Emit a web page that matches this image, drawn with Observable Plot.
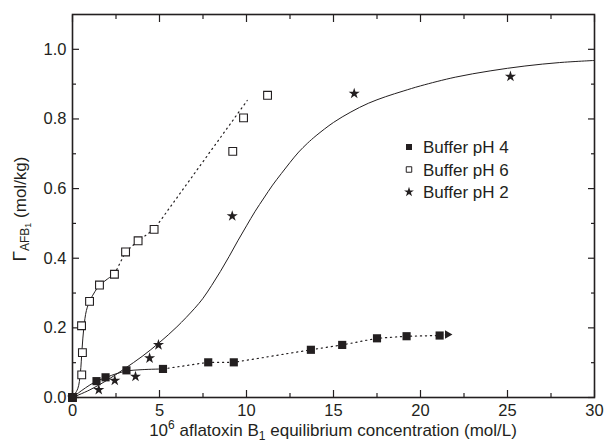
<!DOCTYPE html>
<html><head><meta charset="utf-8">
<script src="https://cdn.jsdelivr.net/npm/d3@7"></script>
<script src="https://cdn.jsdelivr.net/npm/@observablehq/plot@0.6"></script>
<style>body{margin:0;background:#fff}</style>
</head><body><div id="chart"></div>
<script>
// Measured data
const ph4X = [0, 1.38, 1.9, 3.1, 5.2, 7.8, 9.27, 13.7, 15.5, 17.5, 19.2, 21.1];
const ph4Y = [0, 0.047, 0.058, 0.078, 0.082, 0.101, 0.101, 0.137, 0.151, 0.170, 0.176, 0.178];
const ph6X = [0, 0.53, 0.57, 0.52, 0.98, 1.55, 2.41, 3.05, 3.77, 4.69, 9.21, 9.83, 11.21];
const ph6Y = [0, 0.065, 0.129, 0.206, 0.276, 0.323, 0.354, 0.418, 0.450, 0.483, 0.707, 0.803, 0.868];
const ph2X = [0, 1.51, 2.43, 3.62, 4.43, 4.94, 9.18, 16.19, 25.17];
const ph2Y = [0, 0.022, 0.049, 0.060, 0.113, 0.151, 0.521, 0.873, 0.922];

// Fitted curves
const fit4X = [0, 0.5, 1.0, 1.4, 2.0, 2.5, 3.1, 4.0, 5.2];
const fit4Y = [0, 0.019, 0.036, 0.047, 0.059, 0.068, 0.076, 0.080, 0.082];
const dot4X = [5.2, 7.8, 9.27, 13.7, 15.5, 17.5, 19.2, 21.1, 21.6];
const dot4Y = [0.082, 0.101, 0.101, 0.137, 0.151, 0.170, 0.176, 0.178, 0.181];
const arrowX = [21.55];
const arrowY = [0.181];

const fit6X = [0, 0.3, 0.45, 0.55, 0.65, 0.8, 1.0, 1.3, 1.55, 2.0, 2.41];
const fit6Y = [0, 0.025, 0.07, 0.14, 0.2, 0.25, 0.278, 0.305, 0.322, 0.34, 0.354];
const dot6X = [2.41, 3.05, 3.77, 4.69, 10.04];
const dot6Y = [0.354, 0.418, 0.450, 0.483, 0.853];

const fit2X = [0, 1, 2, 3, 4, 5, 6, 7, 7.5, 8, 8.5, 9, 9.5, 10, 10.5, 11, 11.5, 12, 12.5, 13, 13.5, 14, 15, 16, 17, 18, 19, 20, 22, 24, 26, 28, 30];
const fit2Y = [0, 0.022, 0.05, 0.083, 0.118, 0.158, 0.203, 0.255, 0.285, 0.322, 0.362, 0.405, 0.45, 0.493, 0.535, 0.573, 0.61, 0.643, 0.675, 0.705, 0.73, 0.752, 0.79, 0.82, 0.845, 0.864, 0.88, 0.895, 0.92, 0.938, 0.952, 0.962, 0.968];

// Ticks and labels
const xTicks = [0, 5, 10, 15, 20, 25, 30];
const xMinorTicks = [2.5, 7.5, 12.5, 17.5, 22.5, 27.5];
const yTicks = [0, 0.2, 0.4, 0.6, 0.8, 1.0];
const yMinorTicks = [0.1, 0.3, 0.5, 0.7, 0.9];
const seriesNames = ["Buffer pH 4", "Buffer pH 6", "Buffer pH 2"];

const ink = "#231f20";
const pts = (xs, ys) => xs.map((x, i) => ({x, y: ys[i]}));
const blank = () => "";

const chart = Plot.plot({
  width: 604, height: 446,
  marginLeft: 72, marginRight: 10, marginTop: 14, marginBottom: 49,
  x: {domain: [0, 30]},
  y: {domain: [0, 1.1]},
  style: {fontFamily: "'Liberation Sans', Arial, sans-serif", fontSize: "16.5px", color: ink, background: "#fff"},
  marks: [
    Plot.axisX({ticks: xTicks, tickSize: -7, tickPadding: 14, tickFormat: d => String(d), label: null, stroke: ink, strokeWidth: 1.2, fontSize: 16.5}),
    Plot.axisX({ticks: xMinorTicks, tickSize: -4, tickFormat: blank, label: null, stroke: ink, strokeWidth: 1.2}),
    Plot.axisX({anchor: "top", ticks: xTicks, tickSize: -7, tickFormat: blank, label: null, stroke: ink, strokeWidth: 1.2}),
    Plot.axisX({anchor: "top", ticks: xMinorTicks, tickSize: -4, tickFormat: blank, label: null, stroke: ink, strokeWidth: 1.2}),
    Plot.axisY({ticks: yTicks, tickSize: -7, tickPadding: 13, tickFormat: d3.format(".1f"), label: null, stroke: ink, strokeWidth: 1.2, fontSize: 16.5}),
    Plot.axisY({ticks: yMinorTicks, tickSize: -4, tickFormat: blank, label: null, stroke: ink, strokeWidth: 1.2}),
    Plot.axisY({anchor: "right", ticks: yTicks, tickSize: -7, tickFormat: blank, label: null, stroke: ink, strokeWidth: 1.2}),
    Plot.axisY({anchor: "right", ticks: yMinorTicks, tickSize: -4, tickFormat: blank, label: null, stroke: ink, strokeWidth: 1.2}),
    Plot.frame({stroke: ink, strokeWidth: 1.6}),
    // fits
    Plot.line(pts(fit4X, fit4Y), {x: "x", y: "y", curve: "catmull-rom", stroke: ink, strokeWidth: 1}),
    Plot.line(pts(dot4X, dot4Y), {x: "x", y: "y", stroke: ink, strokeWidth: 1.2, strokeDasharray: "1.2,3.8"}),
    Plot.dot(pts(arrowX, arrowY), {x: "x", y: "y", symbol: "triangle", rotate: 90, r: 3.2, fill: ink, stroke: "none"}),
    Plot.line(pts(fit6X, fit6Y), {x: "x", y: "y", curve: "catmull-rom", stroke: ink, strokeWidth: 1}),
    Plot.line(pts(dot6X, dot6Y), {x: "x", y: "y", stroke: ink, strokeWidth: 1.2, strokeDasharray: "1.2,3.8"}),
    Plot.line(pts(fit2X, fit2Y), {x: "x", y: "y", curve: "catmull-rom", stroke: ink, strokeWidth: 1}),
    // data
    Plot.dot(pts(ph6X, ph6Y), {x: "x", y: "y", symbol: "square", r: 4.4, fill: "#fff", stroke: ink, strokeWidth: 1.1}),
    Plot.dot(pts(ph4X, ph4Y), {x: "x", y: "y", symbol: "square", r: 4.6, fill: ink, stroke: "none"}),
    Plot.dot(pts(ph2X, ph2Y), {x: "x", y: "y", symbol: "star", r: 3.5, fill: ink, stroke: "none"})
  ]
});

document.getElementById("chart").appendChild(chart);
const svg = d3.select(chart);
const font = "'Liberation Sans', Arial, sans-serif";

// x-axis title
const xt = svg.append("text").attr("x", 333).attr("y", 436).attr("text-anchor", "middle")
  .attr("font-family", font).attr("font-size", 17).attr("fill", ink);
xt.append("tspan").text("10");
xt.append("tspan").attr("dy", -7).attr("font-size", 12).text("6");
xt.append("tspan").attr("dy", 7).text(" aflatoxin B");
xt.append("tspan").attr("dy", 4).attr("font-size", 12).text("1");
xt.append("tspan").attr("dy", -4).text(" equilibrium concentration (mol/L)");

// y-axis title
const yt = svg.append("text").attr("transform", "translate(26,209) rotate(-90)").attr("text-anchor", "middle")
  .attr("font-family", font).attr("font-size", 17).attr("fill", ink);
yt.append("tspan").attr("font-size", 19).text("Γ");
yt.append("tspan").attr("dy", 3).attr("font-size", 12).text("AFB");
yt.append("tspan").attr("dy", 2).attr("font-size", 9).text("1");
yt.append("tspan").attr("dy", -5).text(" (mol/kg)");

// legend
const legendSymbols = [
  {name: seriesNames[0], sym: d3.symbolSquare, size: 36, fill: ink, stroke: "none"},
  {name: seriesNames[1], sym: d3.symbolSquare, size: 30, fill: "#fff", stroke: ink},
  {name: seriesNames[2], sym: d3.symbolStar, size: 30, fill: ink, stroke: "none"}
];
const lg = svg.append("g").attr("transform", "translate(409,147)");
legendSymbols.forEach((d, i) => {
  const g = lg.append("g").attr("transform", `translate(0,${i * 22.5})`);
  g.append("path").attr("d", d3.symbol(d.sym, d.size)()).attr("fill", d.fill).attr("stroke", d.stroke).attr("stroke-width", 1);
  g.append("text").attr("x", 14).attr("y", 6).attr("text-anchor", "start").attr("font-family", font).attr("font-size", 17).attr("fill", ink).text(d.name);
});
</script>
</body></html>
